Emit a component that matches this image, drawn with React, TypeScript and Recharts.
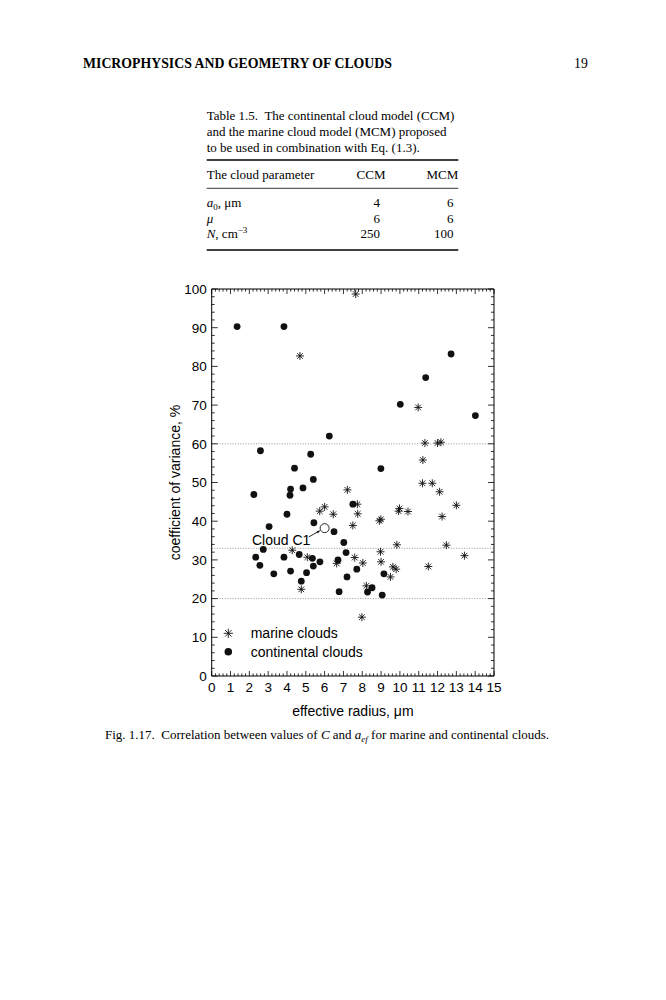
import React from 'react';
import { ScatterChart, Scatter, XAxis, YAxis, ReferenceLine, Legend, Label } from 'recharts';

const SERIF = '"Liberation Serif", "Times New Roman", Times, serif';
const SANS = '"Liberation Sans", Arial, Helvetica, sans-serif';

// ---------- data ----------
const marinePoints: [number, number][] = [
  [4.69, 82.7], [7.65, 98.7], [10.97, 69.4], [11.33, 60.2], [12.0, 60.2], [12.18, 60.4],
  [11.22, 55.8], [11.2, 49.8], [11.72, 49.8], [12.11, 47.6], [7.21, 48.1], [7.74, 44.4],
  [13.0, 44.1], [7.76, 41.9], [12.24, 41.2], [9.98, 43.3], [9.93, 42.6], [10.43, 42.5],
  [8.99, 40.5], [8.91, 40.1], [7.5, 38.9], [5.74, 42.6], [6.0, 43.7], [6.46, 41.8],
  [4.28, 32.5], [5.08, 30.7], [6.64, 29.1], [4.76, 22.4], [7.6, 30.6], [8.03, 29.2],
  [8.22, 23.3], [8.97, 32.1], [9.0, 29.5], [9.63, 28.2], [9.8, 27.6], [9.5, 25.6],
  [9.84, 33.9], [12.47, 33.8], [13.43, 31.1], [11.51, 28.3], [7.98, 15.2],
];

const continentalPoints: [number, number][] = [
  [1.35, 90.3], [3.84, 90.3], [12.72, 83.2], [11.37, 77.1], [10.02, 70.2], [14.01, 67.3],
  [8.99, 53.6], [7.5, 44.4], [6.25, 62.0], [2.59, 58.2], [5.26, 57.3], [4.4, 53.7],
  [5.4, 50.8], [4.19, 48.3], [4.16, 46.7], [4.85, 48.6], [2.24, 46.9], [4.0, 41.8],
  [3.05, 38.6], [5.43, 39.6], [6.5, 37.3], [7.02, 34.5], [2.74, 32.7], [4.65, 31.4],
  [7.14, 31.9], [2.34, 30.7], [3.84, 30.7], [5.35, 30.4], [5.4, 28.4], [5.75, 29.5],
  [6.71, 30.0], [2.56, 28.6], [3.3, 26.4], [4.19, 27.1], [5.04, 26.7], [4.76, 24.5],
  [7.19, 25.6], [6.77, 21.8], [7.71, 27.6], [8.28, 21.7], [8.52, 22.8], [9.06, 20.9],
  [9.15, 26.4],
];

const cloudC1Points: [number, number][] = [[6.0, 38.2]];
const cloudC1Label = 'Cloud C1';

const seriesNames = ['marine clouds', 'continental clouds'];
const xMajorTicks = [0, 1, 2, 3, 4, 5, 6, 7, 8, 9, 10, 11, 12, 13, 14, 15];
const yMajorTicks = [0, 10, 20, 30, 40, 50, 60, 70, 80, 90, 100];
const xMinorStep = 0.2;
const yMinorStep = 2;
const referenceLevels = [60, 33, 20];

const xAxisTitle = 'effective radius, \u03bcm';
const yAxisTitle = 'coefficient of variance, %';

// ---------- derived ----------
const toObjects = (pts: [number, number][]) => pts.map(([x, y]) => ({ x, y }));
const marineData = toObjects(marinePoints);
const continentalData = toObjects(continentalPoints);
const cloudC1Data = toObjects(cloudC1Points);

const xMax = xMajorTicks[xMajorTicks.length - 1];
const yMax = yMajorTicks[yMajorTicks.length - 1];
const xTicks = Array.from({ length: Math.round(xMax / xMinorStep) + 1 }, (_, i) => Math.round(i * xMinorStep * 10) / 10);
const yTicks = Array.from({ length: Math.round(yMax / yMinorStep) + 1 }, (_, i) => i * yMinorStep);

const isMajorX = (v: number) => xMajorTicks.some((t) => Math.abs(t - v) < 1e-6);
const isMajorY = (v: number) => yMajorTicks.some((t) => Math.abs(t - v) < 1e-6);

// ---------- layout ----------
const PLOT_LEFT = 211.7;
const PLOT_RIGHT = 494;
const PLOT_TOP = 289;
const PLOT_BOTTOM = 676;
const W = 666;
const H = 1000;
const LEFT_AXIS_W = 40;
const RIGHT_AXIS_W = 20;
const TOP_AXIS_H = 10;
const BOTTOM_AXIS_H = 40;

const INK = '#111';
const NBSP2 = '\u00a0 ';

// ---------- ticks ----------
const BottomTick = (props: any) => {
  const { x, y, payload } = props;
  const v = payload.value;
  const major = isMajorX(v);
  return (
    <g>
      <line x1={x} x2={x} y1={y} y2={y - (major ? 5 : 2.6)} stroke="#000" strokeWidth={0.8} />
      {major && (
        <text x={x} y={y + 16} textAnchor="middle" fontFamily={SANS} fontSize={13.5} fill="#000">
          {Math.round(v)}
        </text>
      )}
    </g>
  );
};

const TopTick = (props: any) => {
  const { x, y, payload } = props;
  const major = isMajorX(payload.value);
  return <line x1={x} x2={x} y1={y} y2={y + (major ? 5 : 2.6)} stroke="#000" strokeWidth={0.8} />;
};

const LeftTick = (props: any) => {
  const { x, y, payload } = props;
  const v = payload.value;
  const major = isMajorY(v);
  return (
    <g>
      <line x1={x} x2={x + (major ? 6 : 3)} y1={y} y2={y} stroke="#000" strokeWidth={0.8} />
      {major && (
        <text x={x - 5} y={y + 4.8} textAnchor="end" fontFamily={SANS} fontSize={13.5} fill="#000">
          {v}
        </text>
      )}
    </g>
  );
};

const RightTick = (props: any) => {
  const { x, y, payload } = props;
  const major = isMajorY(payload.value);
  return <line x1={x} x2={x - (major ? 6 : 3)} y1={y} y2={y} stroke="#000" strokeWidth={0.8} />;
};

// ---------- markers ----------
const starLines = (cx: number, cy: number, r: number) => {
  const d = r * 0.7071;
  return (
    <g stroke={INK} strokeWidth={0.9} strokeLinecap="round">
      <line x1={cx - r} y1={cy} x2={cx + r} y2={cy} />
      <line x1={cx} y1={cy - r} x2={cx} y2={cy + r} />
      <line x1={cx - d} y1={cy - d} x2={cx + d} y2={cy + d} />
      <line x1={cx - d} y1={cy + d} x2={cx + d} y2={cy - d} />
    </g>
  );
};

const StarShape = (props: any) => {
  const { cx, cy } = props;
  if (cx == null || cy == null) return <g />;
  return starLines(cx, cy, 3.6);
};

const DotShape = (props: any) => {
  const { cx, cy } = props;
  if (cx == null || cy == null) return <g />;
  return <circle cx={cx} cy={cy} r={3.4} fill={INK} />;
};

const CloudC1Shape = (props: any) => {
  const { cx, cy } = props;
  if (cx == null || cy == null) return <g />;
  const x1 = cx - 16;
  const y1 = cy + 8.8;
  const x2 = cx - 4.8;
  const y2 = cy + 2.6;
  const ang = Math.atan2(y2 - y1, x2 - x1);
  const ah = 3.2;
  const p1x = x2 - ah * Math.cos(ang - 0.45);
  const p1y = y2 - ah * Math.sin(ang - 0.45);
  const p2x = x2 - ah * Math.cos(ang + 0.45);
  const p2y = y2 - ah * Math.sin(ang + 0.45);
  return (
    <g>
      <circle cx={cx} cy={cy} r={4.5} fill="#fff" stroke={INK} strokeWidth={0.9} />
      <line x1={x1} y1={y1} x2={x2} y2={y2} stroke={INK} strokeWidth={0.9} />
      <polygon points={`${x2},${y2} ${p1x},${p1y} ${p2x},${p2y}`} fill={INK} />
      <text x={cx - 43.5} y={cy + 16.5} textAnchor="middle" fontFamily={SANS} fontSize={14} fill="#000">
        {cloudC1Label}
      </text>
    </g>
  );
};

// ---------- legend ----------
const LegendContent = (props: any) => {
  const payload: any[] = (props.payload || []).filter((p: any) => seriesNames.includes(p.value));
  payload.sort((a, b) => seriesNames.indexOf(a.value) - seriesNames.indexOf(b.value));
  return (
    <svg width={200} height={42} style={{ display: 'block', overflow: 'visible' }}>
      {payload.map((p, i) => {
        const cy = 11.3 + i * 18.4;
        return (
          <g key={p.value}>
            {p.value === seriesNames[0] ? starLines(10.3, cy, 4.2) : <circle cx={10.3} cy={cy} r={3.8} fill={INK} />}
            <text x={32.7} y={cy + 5} fontFamily={SANS} fontSize={14} fill="#000">
              {p.value}
            </text>
          </g>
        );
      })}
    </svg>
  );
};

// ---------- page text ----------
const PageText = () => (
  <svg width={W} height={H} style={{ position: 'absolute', left: 0, top: 0 }}>
    <text x={83} y={68} fontFamily={SERIF} fontWeight="bold" fontSize={13.8} fill="#000">
      MICROPHYSICS AND GEOMETRY OF CLOUDS
    </text>
    <text x={574} y={68} fontFamily={SERIF} fontSize={13.8} fill="#000">19</text>

    <g fontFamily={SERIF} fontSize={13} fill="#000">
      <text x={206.7} y={119.5}>{`Table 1.5.${NBSP2}The continental cloud model (CCM)`}</text>
      <text x={206.7} y={135.5}>and the marine cloud model (MCM) proposed</text>
      <text x={206.7} y={151.5}>to be used in combination with Eq. (1.3).</text>

      <line x1={206.7} x2={458.3} y1={160} y2={160} stroke="#000" strokeWidth={1.5} />
      <text x={206.7} y={178.5}>The cloud parameter</text>
      <text x={371} y={178.5} textAnchor="middle">CCM</text>
      <text x={458.3} y={178.5} textAnchor="end">MCM</text>
      <line x1={206.7} x2={458.3} y1={188.3} y2={188.3} stroke="#000" strokeWidth={0.8} />

      <text x={206.7} y={207}>
        <tspan fontStyle="italic">a</tspan>
        <tspan fontSize={9} dy={2.5}>0</tspan>
        <tspan dy={-2.5}>, {'\u03bc'}m</tspan>
      </text>
      <text x={380} y={207} textAnchor="end">4</text>
      <text x={453.5} y={207} textAnchor="end">6</text>

      <text x={206.7} y={222.7}><tspan fontStyle="italic">{'\u03bc'}</tspan></text>
      <text x={380} y={222.7} textAnchor="end">6</text>
      <text x={453.5} y={222.7} textAnchor="end">6</text>

      <text x={206.7} y={238.4}>
        <tspan fontStyle="italic">N</tspan>
        <tspan>, cm</tspan>
        <tspan fontSize={9} dy={-5}>{'\u22123'}</tspan>
      </text>
      <text x={380} y={238.4} textAnchor="end">250</text>
      <text x={453.5} y={238.4} textAnchor="end">100</text>
      <line x1={206.7} x2={458.3} y1={250} y2={250} stroke="#000" strokeWidth={1.5} />

      <text x={105} y={739}>
        <tspan>{`Fig. 1.17.${NBSP2}Correlation between values of `}</tspan>
        <tspan fontStyle="italic">C</tspan>
        <tspan>{' and '}</tspan>
        <tspan fontStyle="italic">a</tspan>
        <tspan fontStyle="italic" fontSize={9} dy={2.5}>ef</tspan>
        <tspan dy={-2.5}>{' for marine and continental clouds.'}</tspan>
      </text>
    </g>
  </svg>
);

export default function App() {
  return (
    <div style={{ position: 'absolute', left: 0, top: 0, width: W, height: H, background: '#fff' }}>
      <PageText />
      <div style={{ position: 'absolute', left: 0, top: 0 }}>
        <ScatterChart
          width={W}
          height={H}
          margin={{
            top: PLOT_TOP - TOP_AXIS_H,
            left: PLOT_LEFT - LEFT_AXIS_W,
            right: W - PLOT_RIGHT - RIGHT_AXIS_W,
            bottom: H - PLOT_BOTTOM - BOTTOM_AXIS_H,
          }}
        >
          <XAxis
            xAxisId="bottom"
            orientation="bottom"
            type="number"
            dataKey="x"
            domain={[0, xMax]}
            ticks={xTicks}
            interval={0}
            height={BOTTOM_AXIS_H}
            tick={BottomTick}
            tickLine={false}
            tickSize={0}
            tickMargin={0}
            axisLine={{ stroke: '#000', strokeWidth: 1 }}
            allowDataOverflow
          >
            <Label
              content={() => (
                <text x={(PLOT_LEFT + PLOT_RIGHT) / 2} y={716} textAnchor="middle" fontFamily={SANS} fontSize={14} fill="#000">
                  {xAxisTitle}
                </text>
              )}
            />
          </XAxis>
          <XAxis
            xAxisId="top"
            orientation="top"
            type="number"
            dataKey="x"
            domain={[0, xMax]}
            ticks={xTicks}
            interval={0}
            height={TOP_AXIS_H}
            tick={TopTick}
            tickLine={false}
            tickSize={0}
            tickMargin={0}
            axisLine={{ stroke: '#000', strokeWidth: 1 }}
            allowDataOverflow
          />
          <YAxis
            yAxisId="left"
            orientation="left"
            type="number"
            dataKey="y"
            domain={[0, yMax]}
            ticks={yTicks}
            interval={0}
            width={LEFT_AXIS_W}
            tick={LeftTick}
            tickLine={false}
            tickSize={0}
            tickMargin={0}
            axisLine={{ stroke: '#000', strokeWidth: 1 }}
            allowDataOverflow
          >
            <Label
              content={() => {
                const lx = 180;
                const ly = (PLOT_TOP + PLOT_BOTTOM) / 2;
                return (
                  <text x={lx} y={ly} transform={`rotate(-90 ${lx} ${ly})`} textAnchor="middle" fontFamily={SANS} fontSize={14} fill="#000">
                    {yAxisTitle}
                  </text>
                );
              }}
            />
          </YAxis>
          <YAxis
            yAxisId="right"
            orientation="right"
            type="number"
            dataKey="y"
            domain={[0, yMax]}
            ticks={yTicks}
            interval={0}
            width={RIGHT_AXIS_W}
            tick={RightTick}
            tickLine={false}
            tickSize={0}
            tickMargin={0}
            axisLine={{ stroke: '#000', strokeWidth: 1 }}
            allowDataOverflow
          />
          {referenceLevels.map((lv) => (
            <ReferenceLine
              key={lv}
              y={lv}
              xAxisId="bottom"
              yAxisId="left"
              stroke="#8a8a8a"
              strokeWidth={0.9}
              strokeDasharray="1 1.6"
            />
          ))}
          <Scatter
            name={seriesNames[0]}
            data={marineData}
            xAxisId="bottom"
            yAxisId="left"
            shape={StarShape}
            isAnimationActive={false}
          />
          <Scatter
            name={seriesNames[1]}
            data={continentalData}
            xAxisId="bottom"
            yAxisId="left"
            shape={DotShape}
            isAnimationActive={false}
          />
          <Scatter
            name={cloudC1Label}
            data={cloudC1Data}
            xAxisId="bottom"
            yAxisId="left"
            shape={CloudC1Shape}
            legendType="none"
            isAnimationActive={false}
          />
          <Scatter data={[]} xAxisId="top" yAxisId="right" legendType="none" isAnimationActive={false} />
          <Legend
            layout="vertical"
            align="center"
            verticalAlign="middle"
            wrapperStyle={{ left: 218, top: 622, width: 200, height: 42 }}
            content={LegendContent}
          />
        </ScatterChart>
      </div>
    </div>
  );
}
